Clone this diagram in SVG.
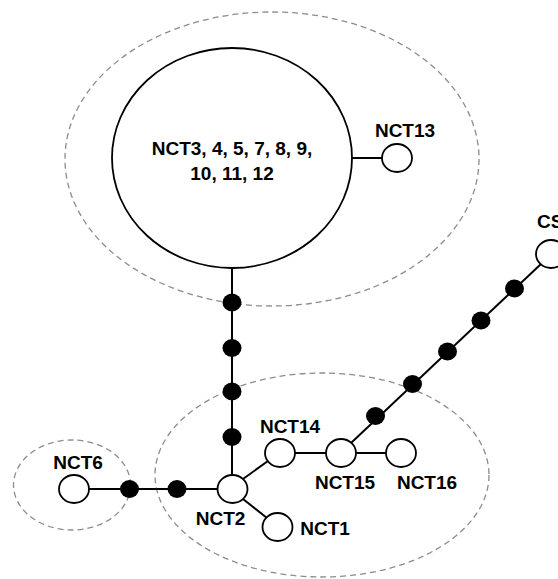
<svg xmlns="http://www.w3.org/2000/svg" width="558" height="579" viewBox="0 0 558 579">
<style>
.grp{fill:none;stroke:#8c8c8c;stroke-width:1.3;stroke-dasharray:6 4}
.edge{stroke:#000;stroke-width:2;fill:none}
.node{fill:#fff;stroke:#000;stroke-width:1.8}
.dot{fill:#000}
.lbl{font-family:"Liberation Sans",Arial,sans-serif;font-weight:bold;font-size:19px;fill:#000;text-anchor:middle}
</style>
<rect width="558" height="579" fill="#fff"/>
<g id="groups">
<ellipse class="grp" cx="272" cy="159" rx="207" ry="147"/>
<ellipse class="grp" cx="322" cy="475" rx="167" ry="102"/>
<ellipse class="grp" cx="72" cy="485" rx="58.5" ry="45"/>
</g>
<g id="connectors">
<line class="edge" x1="232" y1="268" x2="232" y2="475"/>
<line class="edge" x1="351" y1="158" x2="382" y2="158"/>
<line class="edge" x1="89" y1="489" x2="218" y2="489"/>
<line class="edge" x1="243" y1="479" x2="268" y2="461"/>
<line class="edge" x1="243" y1="499" x2="267" y2="518"/>
<line class="edge" x1="295" y1="453" x2="326" y2="453"/>
<line class="edge" x1="356" y1="453" x2="386" y2="453"/>
<line class="edge" x1="351" y1="443" x2="541" y2="264"/>
</g>
<g id="dots">
<ellipse class="dot" cx="232" cy="302.5" rx="9.5" ry="9"/>
<ellipse class="dot" cx="232" cy="348" rx="9.5" ry="9"/>
<ellipse class="dot" cx="232" cy="391.5" rx="9.5" ry="9"/>
<ellipse class="dot" cx="232" cy="437" rx="9.5" ry="9"/>
<ellipse class="dot" cx="129.5" cy="489" rx="9.5" ry="9"/>
<ellipse class="dot" cx="177" cy="489" rx="9.5" ry="9"/>
<ellipse class="dot" cx="375.5" cy="416" rx="9.5" ry="9"/>
<ellipse class="dot" cx="412.5" cy="384" rx="9.5" ry="9"/>
<ellipse class="dot" cx="447.5" cy="351.5" rx="9.5" ry="9"/>
<ellipse class="dot" cx="481" cy="320.5" rx="9.5" ry="9"/>
<ellipse class="dot" cx="514.5" cy="288.5" rx="9.5" ry="9"/>
</g>
<g id="NCT3-12">
<ellipse class="node" cx="232" cy="158" rx="120" ry="110"/>
<text class="lbl" x="232" y="155">NCT3, 4, 5, 7, 8, 9,</text>
<text class="lbl" x="232" y="180">10, 11, 12</text>
</g>
<g id="NCT13">
<ellipse class="node" cx="397" cy="158" rx="15" ry="14"/>
<text class="lbl" x="405" y="137">NCT13</text>
</g>
<g id="CS">
<ellipse class="node" cx="551" cy="254" rx="15" ry="14"/>
<text class="lbl" x="537" y="228" style="text-anchor:start">CS</text>
</g>
<g id="NCT6">
<ellipse class="node" cx="74" cy="489" rx="15" ry="14"/>
<text class="lbl" x="78" y="469">NCT6</text>
</g>
<g id="NCT2">
<ellipse class="node" cx="232.5" cy="489" rx="15" ry="14"/>
<text class="lbl" x="220.5" y="525">NCT2</text>
</g>
<g id="NCT14">
<ellipse class="node" cx="280" cy="453" rx="15" ry="14"/>
<text class="lbl" x="290" y="433">NCT14</text>
</g>
<g id="NCT15">
<ellipse class="node" cx="341" cy="453" rx="15" ry="14"/>
<text class="lbl" x="345" y="489">NCT15</text>
</g>
<g id="NCT16">
<ellipse class="node" cx="401" cy="453" rx="15" ry="14"/>
<text class="lbl" x="427" y="489">NCT16</text>
</g>
<g id="NCT1">
<ellipse class="node" cx="277.5" cy="527" rx="15" ry="14"/>
<text class="lbl" x="325" y="535">NCT1</text>
</g>
</svg>
